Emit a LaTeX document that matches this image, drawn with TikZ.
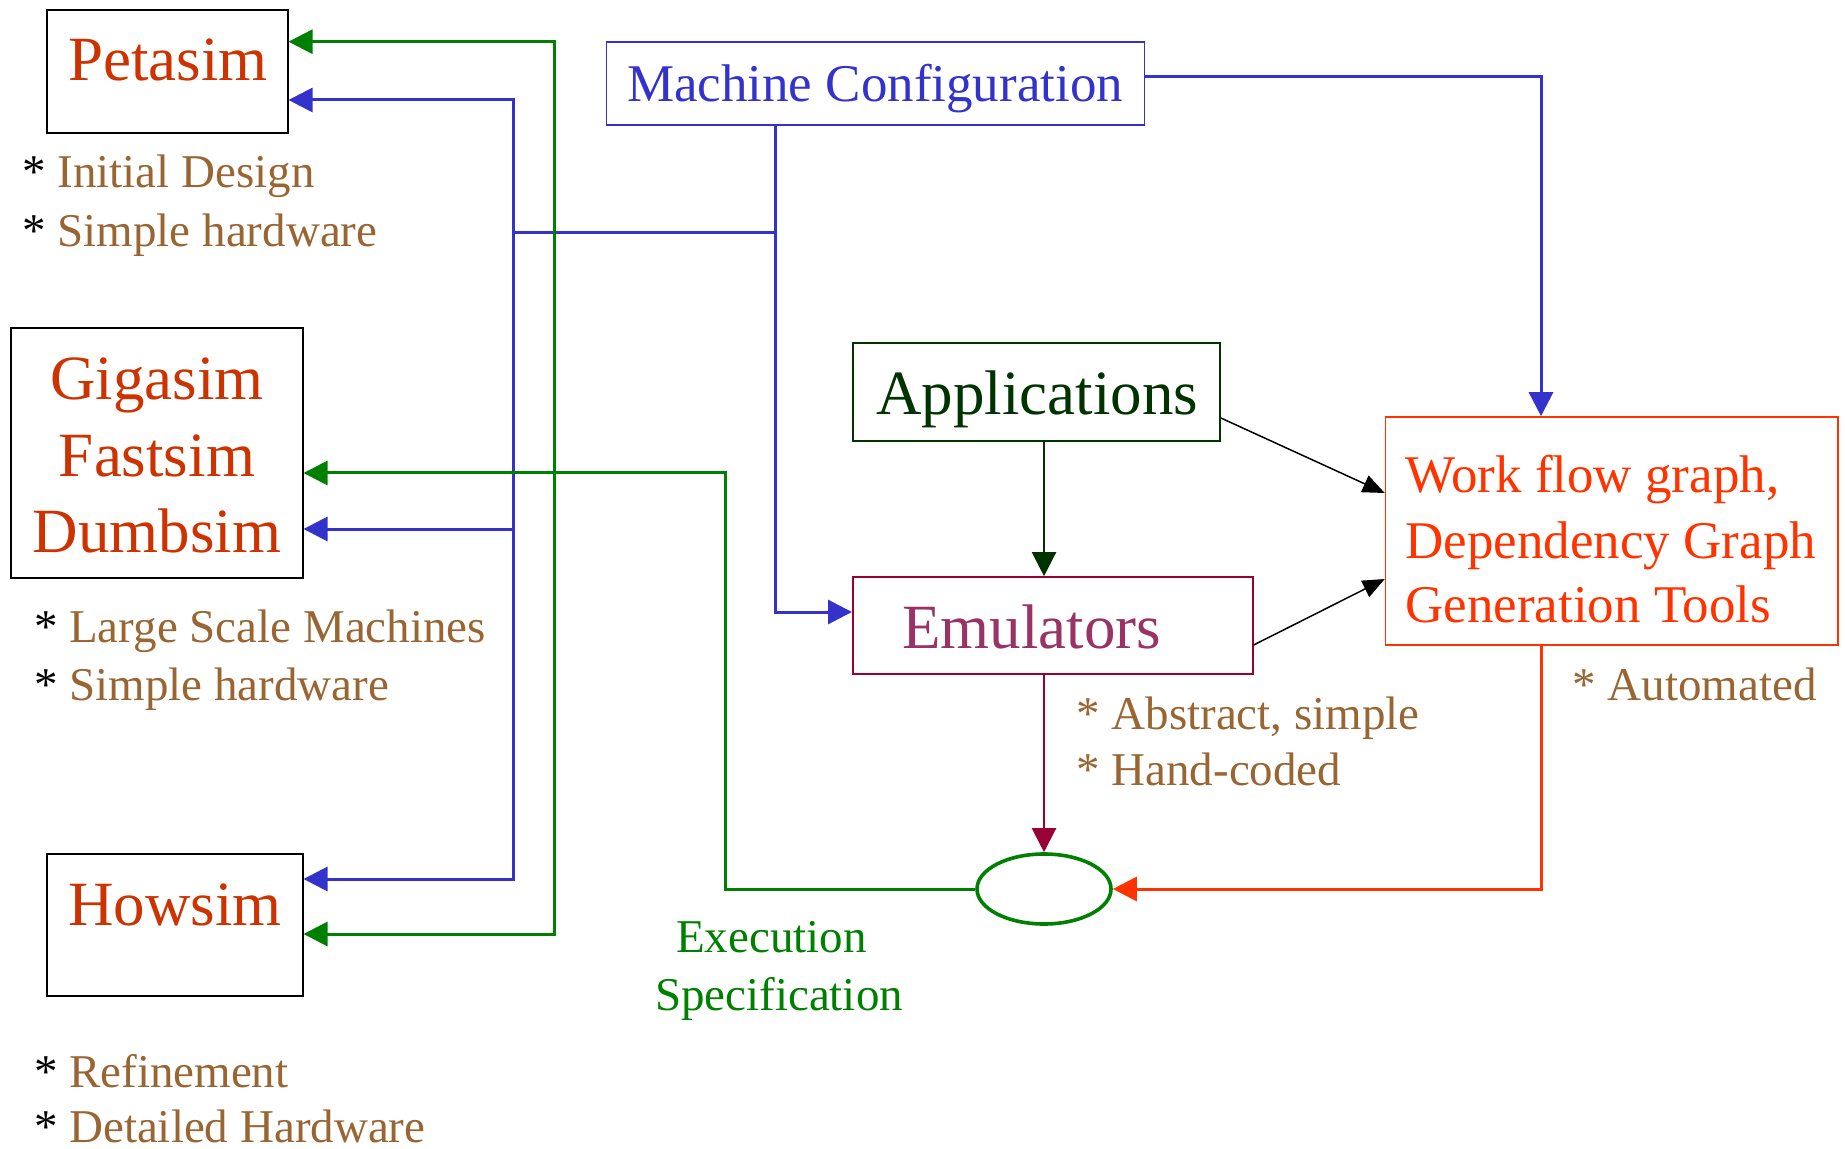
\documentclass[tikz,border=0pt]{standalone}
\usepackage{fontspec}
\setmainfont{Liberation Serif}
\usetikzlibrary{arrows.meta,shapes.geometric}
\definecolor{simred}{RGB}{204,51,0}
\definecolor{anno}{RGB}{153,102,51}
\definecolor{cblue}{RGB}{51,51,204}
\definecolor{cgreen}{RGB}{0,128,0}
\definecolor{appgreen}{RGB}{0,51,0}
\definecolor{emutext}{RGB}{153,51,102}
\definecolor{emubox}{RGB}{153,0,51}
\definecolor{wfred}{RGB}{255,51,0}
\begin{document}
\begin{tikzpicture}[x=0.5pt,y=-0.5pt,
 box/.style={draw,rectangle,inner sep=0pt,line width=1pt},
 txt/.style={inner sep=0pt,anchor=base},
 big/.style={font=\fontsize{31.5}{36}\selectfont},
 mid/.style={font=\fontsize{26.5}{32}\selectfont},
 small/.style={font=\fontsize{23.5}{28}\selectfont},
 anno/.style={inner sep=0pt,anchor=base west,font=\fontsize{23.5}{28}\selectfont,text=anno},
 conn/.style={line width=1.5pt,-{Triangle[length=12pt,width=12pt]}},
 connthin/.style={line width=1.1pt,-{Triangle[length=12pt,width=12pt]}},
 blk/.style={line width=0.75pt,-{Triangle[length=11pt,width=9pt]}},
]
\useasboundingbox (0,0) rectangle (1845,1149);

% boxes
\node[box,minimum width=120.4pt,minimum height=61.5pt] (pet) at (167.1,71.2) {};
\node[box,minimum width=145.9pt,minimum height=125pt] (giga) at (156.6,453) {};
\node[box,minimum width=127.9pt,minimum height=71pt] (how) at (174.6,925) {};
\node[box,draw=cblue,line width=0.8pt,minimum width=269pt,minimum height=41.5pt] (mc) at (875.6,83.5) {};
\node[box,draw=appgreen,line width=0.8pt,minimum width=183.65pt,minimum height=49pt] (app) at (1036.4,392) {};
\node[box,draw=emubox,line width=0.8pt,minimum width=200pt,minimum height=48.5pt] (emu) at (1052.8,625.5) {};
\node[box,draw=wfred,line width=0.8pt,minimum width=226.25pt,minimum height=114pt] (wf) at (1611.8,531) {};
\node[draw=cgreen,ellipse,line width=1.8pt,minimum width=67pt,minimum height=35pt,inner sep=0pt] (ell) at (1044,889) {};

% box texts
\node[txt,big,text=simred] (tpet) at (168,81) {Petasim};
\node[txt,big,text=simred] (tgiga) at (157,400) {Gigasim};
\node[txt,big,text=simred] (tfast) at (157,476) {Fastsim};
\node[txt,big,text=simred] (tdumb) at (157,552) {Dumbsim};
\node[txt,big,text=simred] (thow) at (175,925) {Howsim};
\node[txt,mid,text=cblue] (tmc) at (875,102) {Machine Configuration};
\node[txt,big,text=appgreen] (tapp) at (1037,415) {Applications};
\node[txt,big,text=emutext] (temu) at (1031.5,648) {Emulators};
\node[txt,mid,text=wfred,anchor=base west] (twf1) at (1405,493) {Work flow graph,};
\node[txt,mid,text=wfred,anchor=base west] (twf2) at (1405,558) {Dependency Graph};
\node[txt,mid,text=wfred,anchor=base west] (twf3) at (1405,622) {Generation Tools};

% annotations
\node[anno] (a1) at (22,188) {{\color{black}*} Initial Design};
\node[anno] (a2) at (22,247) {{\color{black}*} Simple hardware};
\node[anno] (a3) at (33.6,642) {{\color{black}*} Large Scale Machines};
\node[anno] (a4) at (33.6,700) {{\color{black}*} Simple hardware};
\node[anno] (a5) at (33.6,1087) {{\color{black}*} Refinement};
\node[anno] (a6) at (33.6,1142) {{\color{black}*} Detailed Hardware};
\node[anno] (a7) at (1076,729) {* Abstract, simple};
\node[anno] (a8) at (1076,785) {* Hand-coded};
\node[anno] (a9) at (1572,700) {* Automated};
\node[txt,small,text=cgreen] (ex1) at (771.5,952) {Execution};
\node[txt,small,text=cgreen] (ex2) at (779,1010) {Specification};

% junctions
\coordinate (bj) at (775,233);
\coordinate (bv) at (513,233);
\coordinate (gc) at (725.5,473);
\coordinate (gv) at (554,473);
\coordinate (bt) at (1541,77);

% connectors
\draw[conn,cblue] ([yshift=3.25pt]mc.east) -- (bt) -- (bt |- wf.north);
\draw[conn,cblue] ([xshift=-50.3pt]mc.south) |- ([yshift=6.75pt]emu.west);
\draw[line width=1.5pt,cblue] (bj) -- (bv);
\draw[conn,cblue] (bv) |- ([yshift=-14.4pt]pet.east);
\draw[conn,cblue] (bv) |- ([yshift=-38pt]giga.east);
\draw[conn,cblue] (bv) |- ([yshift=23pt]how.east);
\draw[conn,cgreen] (ell.west) -| (gc) -- ([yshift=-10pt]giga.east);
\draw[conn,cgreen] (gv) |- ([yshift=14.75pt]pet.east);
\draw[conn,cgreen] (gv) |- ([yshift=-4.5pt]how.east);
\draw[conn,wfred] (bt |- wf.south) |- (ell.east);
\draw[connthin,emubox] (ell.north |- emu.south) -- (ell.north);
\draw[connthin,appgreen] (ell.north |- app.south) -- (ell.north |- emu.north);
\draw[blk] ([yshift=-13pt]app.east) -- ([yshift=19pt]wf.west);
\draw[blk] ([yshift=-9.75pt]emu.east) -- ([yshift=-24pt]wf.west);
\end{tikzpicture}
\end{document}
